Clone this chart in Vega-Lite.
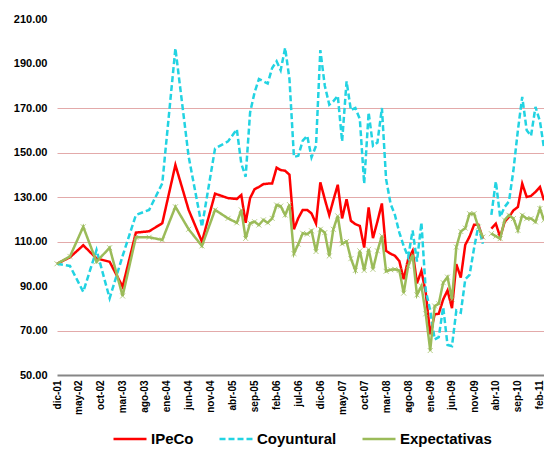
{
  "$schema": "https://vega.github.io/schema/vega-lite/v6.json",
  "autosize": "none",
  "width": 487,
  "height": 356,
  "padding": {"left": 57, "top": 19, "right": 0, "bottom": 78},
  "background": "white",
  "config": {
    "view": {"stroke": null},
    "font": "Liberation Sans"
  },
  "data": {
    "values": [
      {"d": "2001-12-01", "IPeCo": 100, "Coyuntural": 100, "Expectativas": 100},
      {"d": "2002-03-01", "IPeCo": 102.9, "Coyuntural": 99, "Expectativas": 103.3},
      {"d": "2002-06-01", "IPeCo": 108.3, "Coyuntural": 87.4, "Expectativas": 116.6},
      {"d": "2002-09-01", "IPeCo": 102.4, "Coyuntural": 106.2, "Expectativas": 100.9},
      {"d": "2002-12-01", "IPeCo": 100.9, "Coyuntural": 84.5, "Expectativas": 107.2},
      {"d": "2003-03-01", "IPeCo": 89.7, "Coyuntural": 103.5, "Expectativas": 85.5},
      {"d": "2003-06-01", "IPeCo": 114, "Coyuntural": 121.9, "Expectativas": 111.9},
      {"d": "2003-09-01", "IPeCo": 114.6, "Coyuntural": 124.2, "Expectativas": 111.9},
      {"d": "2003-12-01", "IPeCo": 118.2, "Coyuntural": 136.1, "Expectativas": 110.7},
      {"d": "2004-03-01", "IPeCo": 144.4, "Coyuntural": 196.8, "Expectativas": 125.6},
      {"d": "2004-06-01", "IPeCo": 124.2, "Coyuntural": 148.1, "Expectativas": 115.5},
      {"d": "2004-09-01", "IPeCo": 109.9, "Coyuntural": 116.6, "Expectativas": 108},
      {"d": "2004-12-01", "IPeCo": 131.5, "Coyuntural": 151.8, "Expectativas": 124.2},
      {"d": "2005-03-01", "IPeCo": 129.5, "Coyuntural": 155, "Expectativas": 120.4},
      {"d": "2005-05-01", "IPeCo": 129.1, "Coyuntural": 160.4, "Expectativas": 118.4},
      {"d": "2005-06-01", "IPeCo": 130.9, "Coyuntural": 145, "Expectativas": 124.2},
      {"d": "2005-07-01", "IPeCo": 118.4, "Coyuntural": 139.1, "Expectativas": 111.4},
      {"d": "2005-08-01", "IPeCo": 129.5, "Coyuntural": 168, "Expectativas": 118.2},
      {"d": "2005-09-01", "IPeCo": 133.5, "Coyuntural": 177, "Expectativas": 118.9},
      {"d": "2005-10-01", "IPeCo": 134.5, "Coyuntural": 183, "Expectativas": 117.4},
      {"d": "2005-11-01", "IPeCo": 135.8, "Coyuntural": 182, "Expectativas": 119.7},
      {"d": "2005-12-01", "IPeCo": 136, "Coyuntural": 181, "Expectativas": 118.4},
      {"d": "2006-01-01", "IPeCo": 136.1, "Coyuntural": 188, "Expectativas": 120.4},
      {"d": "2006-02-01", "IPeCo": 143.2, "Coyuntural": 191, "Expectativas": 126.4},
      {"d": "2006-03-01", "IPeCo": 142.1, "Coyuntural": 187, "Expectativas": 125.9},
      {"d": "2006-04-01", "IPeCo": 141.8, "Coyuntural": 197, "Expectativas": 121.9},
      {"d": "2006-05-01", "IPeCo": 140, "Coyuntural": 183, "Expectativas": 126.6},
      {"d": "2006-06-01", "IPeCo": 115.5, "Coyuntural": 148, "Expectativas": 104.6},
      {"d": "2006-07-01", "IPeCo": 120.5, "Coyuntural": 148.5, "Expectativas": 108.8},
      {"d": "2006-08-01", "IPeCo": 124.2, "Coyuntural": 155.3, "Expectativas": 113.7},
      {"d": "2006-09-01", "IPeCo": 124.2, "Coyuntural": 157.5, "Expectativas": 113.3},
      {"d": "2006-10-01", "IPeCo": 122.6, "Coyuntural": 147.8, "Expectativas": 114.8},
      {"d": "2006-11-01", "IPeCo": 118.1, "Coyuntural": 153, "Expectativas": 105.5},
      {"d": "2006-12-01", "IPeCo": 136.6, "Coyuntural": 196, "Expectativas": 115.5},
      {"d": "2007-01-01", "IPeCo": 129, "Coyuntural": 180, "Expectativas": 114},
      {"d": "2007-02-01", "IPeCo": 121.9, "Coyuntural": 171.5, "Expectativas": 103.5},
      {"d": "2007-03-01", "IPeCo": 128.5, "Coyuntural": 173, "Expectativas": 115.5},
      {"d": "2007-04-01", "IPeCo": 135.5, "Coyuntural": 175.5, "Expectativas": 121.5},
      {"d": "2007-05-01", "IPeCo": 120.4, "Coyuntural": 155, "Expectativas": 109},
      {"d": "2007-06-01", "IPeCo": 129, "Coyuntural": 182, "Expectativas": 110},
      {"d": "2007-07-01", "IPeCo": 119.3, "Coyuntural": 169, "Expectativas": 102.3},
      {"d": "2007-08-01", "IPeCo": 117.8, "Coyuntural": 170, "Expectativas": 97},
      {"d": "2007-09-01", "IPeCo": 117, "Coyuntural": 165, "Expectativas": 105.8},
      {"d": "2007-10-01", "IPeCo": 107.3, "Coyuntural": 136, "Expectativas": 97},
      {"d": "2007-11-01", "IPeCo": 125.3, "Coyuntural": 168, "Expectativas": 106.5},
      {"d": "2007-12-01", "IPeCo": 111.5, "Coyuntural": 153, "Expectativas": 97.5},
      {"d": "2008-01-01", "IPeCo": 119, "Coyuntural": 154.5, "Expectativas": 105.8},
      {"d": "2008-02-01", "IPeCo": 127.1, "Coyuntural": 170, "Expectativas": 112.5},
      {"d": "2008-03-01", "IPeCo": 105.8, "Coyuntural": 138, "Expectativas": 96.6},
      {"d": "2008-04-01", "IPeCo": 104.5, "Coyuntural": 127, "Expectativas": 97.3},
      {"d": "2008-05-01", "IPeCo": 103.6, "Coyuntural": 122, "Expectativas": 97.5},
      {"d": "2008-06-01", "IPeCo": 101.2, "Coyuntural": 114, "Expectativas": 97},
      {"d": "2008-07-01", "IPeCo": 93, "Coyuntural": 108, "Expectativas": 86.8},
      {"d": "2008-08-01", "IPeCo": 102, "Coyuntural": 103, "Expectativas": 99},
      {"d": "2008-09-01", "IPeCo": 105.8, "Coyuntural": 115, "Expectativas": 104},
      {"d": "2008-10-01", "IPeCo": 91.2, "Coyuntural": 101, "Expectativas": 86},
      {"d": "2008-11-01", "IPeCo": 96.8, "Coyuntural": 118.5, "Expectativas": 90},
      {"d": "2008-12-01", "IPeCo": 87, "Coyuntural": 88, "Expectativas": 77.5},
      {"d": "2009-01-01", "IPeCo": 68.3, "Coyuntural": 79, "Expectativas": 61},
      {"d": "2009-02-01", "IPeCo": 77.3, "Coyuntural": 66, "Expectativas": 81},
      {"d": "2009-03-01", "IPeCo": 77.5, "Coyuntural": 67, "Expectativas": 82},
      {"d": "2009-04-01", "IPeCo": 84, "Coyuntural": 80.5, "Expectativas": 91.5},
      {"d": "2009-05-01", "IPeCo": 88, "Coyuntural": 63.5, "Expectativas": 94},
      {"d": "2009-06-01", "IPeCo": 80, "Coyuntural": 63, "Expectativas": 84},
      {"d": "2009-07-01", "IPeCo": 99.8, "Coyuntural": 79, "Expectativas": 107.5},
      {"d": "2009-08-01", "IPeCo": 93.8, "Coyuntural": 78, "Expectativas": 114.5},
      {"d": "2009-09-01", "IPeCo": 108.5, "Coyuntural": 93, "Expectativas": 116},
      {"d": "2009-10-01", "IPeCo": 112.2, "Coyuntural": 95, "Expectativas": 122.5},
      {"d": "2009-11-01", "IPeCo": 117.5, "Coyuntural": 107, "Expectativas": 122.5},
      {"d": "2009-12-01", "IPeCo": 117.5, "Coyuntural": 117, "Expectativas": 116.5},
      {"d": "2010-01-01", "IPeCo": 111.3, "Coyuntural": 109, "Expectativas": 112},
      {"d": "2010-02-01", "IPeCo": null, "Coyuntural": null, "Expectativas": null},
      {"d": "2010-03-01", "IPeCo": 115.8, "Coyuntural": 122, "Expectativas": 113.5},
      {"d": "2010-04-01", "IPeCo": 118, "Coyuntural": 137, "Expectativas": 112.4},
      {"d": "2010-05-01", "IPeCo": 112, "Coyuntural": 121, "Expectativas": 111.3},
      {"d": "2010-06-01", "IPeCo": 118.8, "Coyuntural": 125.5, "Expectativas": 119.6},
      {"d": "2010-07-01", "IPeCo": 121, "Coyuntural": 128, "Expectativas": 121.8},
      {"d": "2010-08-01", "IPeCo": 124, "Coyuntural": 142, "Expectativas": 120.3},
      {"d": "2010-09-01", "IPeCo": 125.5, "Coyuntural": 160, "Expectativas": 115},
      {"d": "2010-10-01", "IPeCo": 136, "Coyuntural": 175, "Expectativas": 121.8},
      {"d": "2010-11-01", "IPeCo": 130, "Coyuntural": 160, "Expectativas": 120.3},
      {"d": "2010-12-01", "IPeCo": 130.5, "Coyuntural": 157.5, "Expectativas": 120.3},
      {"d": "2011-01-01", "IPeCo": 132.3, "Coyuntural": 170.5, "Expectativas": 118.8},
      {"d": "2011-02-01", "IPeCo": 134.5, "Coyuntural": 164, "Expectativas": 124.8},
      {"d": "2011-03-01", "IPeCo": 128.5, "Coyuntural": 152, "Expectativas": 119.6}
    ]
  },
  "transform": [
    {"fold": ["IPeCo", "Coyuntural", "Expectativas"], "as": ["s", "v"]}
  ],
  "encoding": {
    "x": {
      "field": "d",
      "type": "temporal",
      "scale": {
        "type": "utc",
        "domain": [
          {"year": 2001, "month": 12, "date": 1, "utc": true},
          {"year": 2011, "month": 3, "date": 1, "utc": true}
        ],
        "nice": false
      },
      "axis": {
        "title": null,
        "values": [
          {"year": 2001, "month": 12, "date": 1, "utc": true},
          {"year": 2002, "month": 5, "date": 1, "utc": true},
          {"year": 2002, "month": 10, "date": 1, "utc": true},
          {"year": 2003, "month": 3, "date": 1, "utc": true},
          {"year": 2003, "month": 8, "date": 1, "utc": true},
          {"year": 2004, "month": 1, "date": 1, "utc": true},
          {"year": 2004, "month": 6, "date": 1, "utc": true},
          {"year": 2004, "month": 11, "date": 1, "utc": true},
          {"year": 2005, "month": 4, "date": 1, "utc": true},
          {"year": 2005, "month": 9, "date": 1, "utc": true},
          {"year": 2006, "month": 2, "date": 1, "utc": true},
          {"year": 2006, "month": 7, "date": 1, "utc": true},
          {"year": 2006, "month": 12, "date": 1, "utc": true},
          {"year": 2007, "month": 5, "date": 1, "utc": true},
          {"year": 2007, "month": 10, "date": 1, "utc": true},
          {"year": 2008, "month": 3, "date": 1, "utc": true},
          {"year": 2008, "month": 8, "date": 1, "utc": true},
          {"year": 2009, "month": 1, "date": 1, "utc": true},
          {"year": 2009, "month": 6, "date": 1, "utc": true},
          {"year": 2009, "month": 11, "date": 1, "utc": true},
          {"year": 2010, "month": 4, "date": 1, "utc": true},
          {"year": 2010, "month": 9, "date": 1, "utc": true},
          {"year": 2011, "month": 2, "date": 1, "utc": true}
        ],
        "labelExpr": "['ene','feb','mar','abr','may','jun','jul','ago','sep','oct','nov','dic'][utcmonth(datum.value)] + '-' + utcFormat(datum.value, '%y')",
        "labelAngle": -90,
        "labelFontSize": 10,
        "labelFontWeight": "bold",
        "labelColor": "#000000",
        "labelPadding": 5,
        "labelOverlap": false,
        "labelFlush": false,
        "ticks": false,
        "grid": false,
        "domainColor": "#868686",
        "domainWidth": 2
      }
    },
    "y": {
      "field": "v",
      "type": "quantitative",
      "scale": {"domain": [50, 210], "nice": false, "zero": false},
      "axis": {
        "title": null,
        "values": [50, 70, 90, 110, 130, 150, 170, 190, 210],
        "format": ".2f",
        "labelFontSize": 11,
        "labelFontWeight": "bold",
        "labelColor": "#000000",
        "labelPadding": 10,
        "domain": false,
        "ticks": false,
        "gridColor": {
          "condition": {"test": "datum.value === 90 || datum.value === 50 || datum.value >= 190", "value": "transparent"},
          "value": "#E3AAAA"
        },
        "gridWidth": 1
      }
    }
  },
  "layer": [
    {
      "mark": {"type": "line", "invalid": "break-paths-show-domains", "strokeWidth": 2.5},
      "encoding": {
        "color": {
          "field": "s",
          "type": "nominal",
          "scale": {"domain": ["IPeCo", "Coyuntural", "Expectativas"], "range": ["#FF0000", "#22D3E2", "#9BBB59"]},
          "legend": {
            "title": null,
            "orient": "none",
            "legendX": 55,
            "legendY": 402,
            "direction": "horizontal",
            "symbolType": "stroke",
            "symbolSize": 1089,
            "symbolStrokeWidth": 2.5,
            "labelFontSize": 15,
            "labelFontWeight": "bold",
            "labelColor": "#000000",
            "labelOffset": 3,
            "columnPadding": 20,
            "padding": 0
          }
        },
        "strokeDash": {
          "field": "s",
          "type": "nominal",
          "scale": {"domain": ["IPeCo", "Coyuntural", "Expectativas"], "range": [[1, 0], [6, 3], [1, 0]]},
          "legend": {
            "title": null,
            "orient": "none",
            "legendX": 55,
            "legendY": 402,
            "direction": "horizontal",
            "symbolType": "stroke",
            "symbolSize": 1089,
            "symbolStrokeWidth": 2.5,
            "labelFontSize": 15,
            "labelFontWeight": "bold",
            "labelColor": "#000000",
            "labelOffset": 3,
            "columnPadding": 20,
            "padding": 0
          }
        }
      }
    },
    {
      "transform": [{"filter": "datum.s === 'Expectativas' && isValid(datum.v)"}],
      "mark": {
        "type": "point",
        "shape": "M-1,-1L1,1M-1,1L1,-1",
        "filled": false,
        "size": 25,
        "strokeWidth": 1,
        "color": "#9BBB59"
      }
    }
  ]
}
